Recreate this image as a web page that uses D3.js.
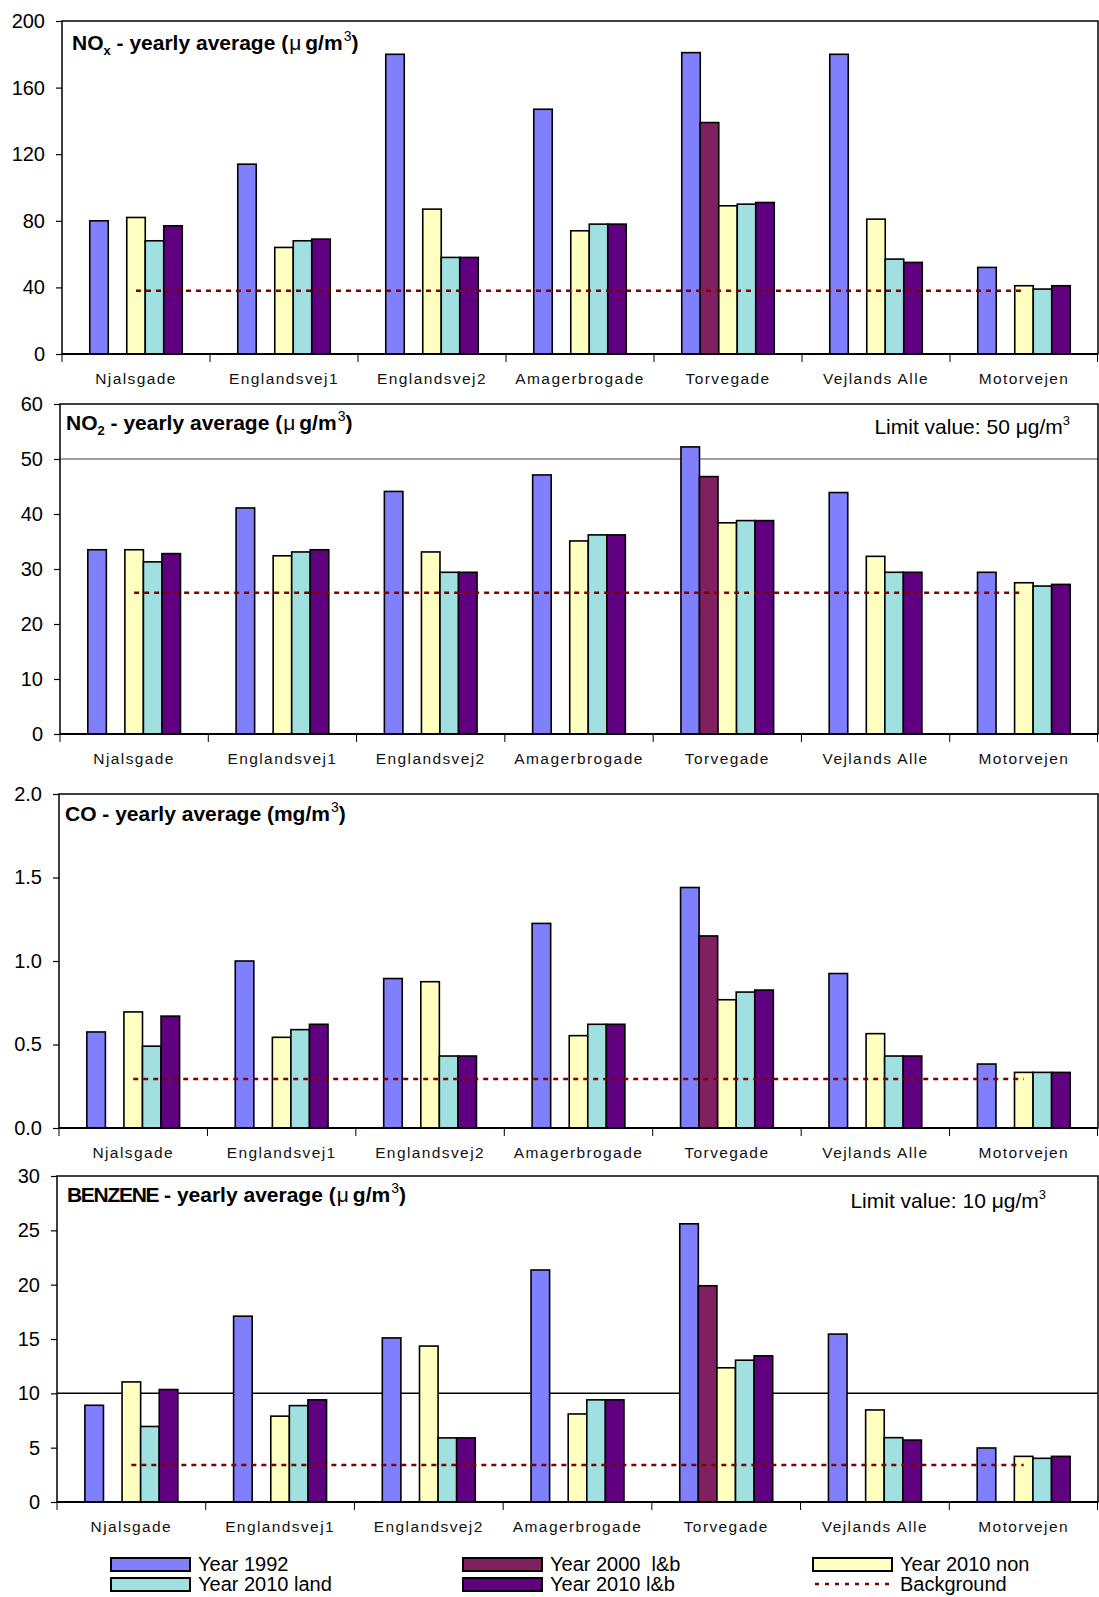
<!DOCTYPE html>
<html lang="en">
<head>
<meta charset="utf-8">
<title>Yearly averages</title>
<script src="https://d3js.org/d3.v7.min.js"></script>
<style>
  body { margin: 0; background: #fff; }
  svg { font-family: Arial, "Liberation Sans", sans-serif; }
</style>
</head>
<body>
<div id="chart"></div>
<script>
// Streets (categories) and the five scenarios
const categories = ["Njalsgade", "Englandsvej1", "Englandsvej2", "Amagerbrogade", "Torvegade", "Vejlands Alle", "Motorvejen"];
const seriesNames = ["Year 1992", "Year 2000  l&b", "Year 2010 non", "Year 2010 land", "Year 2010 l&b"];
const seriesColors = ["#8080ff", "#802060", "#ffffc0", "#a0e0e0", "#600080"];

// One row per scenario, one value per street (null = no bar)
const noxValues = [
    [80, 114, 180, 147, 181, 180, 52],
    [null, null, null, null, 139, null, null],
    [82, 64, 87, 74, 89, 81, 41],
    [68, 68, 58, 78, 90, 57, 39],
    [77, 69, 58, 78, 91, 55, 41]
];
const no2Values = [
    [33.5, 41.1, 44.1, 47.1, 52.2, 43.9, 29.4],
    [null, null, null, null, 46.8, null, null],
    [33.5, 32.4, 33.1, 35.1, 38.4, 32.3, 27.5],
    [31.3, 33.1, 29.4, 36.2, 38.8, 29.4, 26.9],
    [32.8, 33.5, 29.4, 36.2, 38.8, 29.4, 27.2]
];
const coValues = [
    [0.575, 1.0, 0.895, 1.225, 1.44, 0.925, 0.383],
    [null, null, null, null, 1.15, null, null],
    [0.695, 0.543, 0.876, 0.553, 0.768, 0.565, 0.333],
    [0.49, 0.589, 0.431, 0.621, 0.814, 0.431, 0.333],
    [0.67, 0.621, 0.431, 0.621, 0.826, 0.431, 0.333]
];
const benzeneValues = [
    [8.9, 17.1, 15.1, 21.35, 25.6, 15.45, 4.97],
    [null, null, null, null, 19.9, null, null],
    [11.05, 7.9, 14.35, 8.1, 12.35, 8.47, 4.2],
    [6.95, 8.87, 5.9, 9.4, 13.05, 5.92, 4.02],
    [10.35, 9.4, 5.9, 9.4, 13.45, 5.7, 4.2]
];

// Background level and limit values
const backgroundValues = [38, 25.7, 0.293, 3.4];
const limitValues = [null, 50, null, 10];

// Y axis ticks for each panel
const noxTicks = [0, 40, 80, 120, 160, 200];
const no2Ticks = [0, 10, 20, 30, 40, 50, 60];
const coTicks = [0, 0.5, 1.0, 1.5, 2.0];
const benzeneTicks = [0, 5, 10, 15, 20, 25, 30];

const width = 1099;
const height = 1597;
const right = 1098;

const panels = [
    { values: noxValues, ticks: noxTicks, fmt: d3.format("d"), left: 62, top: 21, bottom: 354,
      title: [["NO", 0], ["x", "sub"], [" - yearly average (", 0], ["μ", "mu"], ["g/m", 0], ["3", "sup"], [")", 0]],
      tx: 72, ty: 50 },
    { values: no2Values, ticks: no2Ticks, fmt: d3.format("d"), left: 60, top: 404, bottom: 734,
      title: [["NO", 0], ["2", "sub"], [" - yearly average (", 0], ["μ", "mu"], ["g/m", 0], ["3", "sup"], [")", 0]],
      tx: 66, ty: 430, limitText: "Limit value: 50 ", lx: 1070, ly: 434, limitColor: "#808080" },
    { values: coValues, ticks: coTicks, fmt: d3.format(".1f"), left: 59, top: 794, bottom: 1128,
      title: [["CO - yearly average (mg/m", 0], ["3", "sup"], [")", 0]],
      tx: 65, ty: 821 },
    { values: benzeneValues, ticks: benzeneTicks, fmt: d3.format("d"), left: 57, top: 1176, bottom: 1502,
      title: [["BENZENE", "cond"], [" - yearly average (", 0], ["μ", "mu"], ["g/m", 0], ["3", "sup"], [")", 0]],
      tx: 67, ty: 1202, limitText: "Limit value: 10 ", lx: 1046, ly: 1208, limitColor: "#000" }
];

const svg = d3.select("#chart")
    .append("svg")
    .attr("width", width)
    .attr("height", height);

panels.forEach((p, pi) => {
    const g = svg.append("g");
    const tickMax = p.ticks[p.ticks.length - 1];

    const x0 = d3.scaleBand().domain(categories).range([p.left, right]);
    const x1 = d3.scaleBand()
        .domain(d3.range(seriesNames.length))
        .range([0, x0.bandwidth()])
        .paddingOuter(1.5);
    const y = d3.scaleLinear().domain([0, tickMax]).range([p.bottom, p.top]);

    // limit value line
    if (limitValues[pi] !== null) {
        g.append("line")
            .attr("x1", p.left).attr("x2", right)
            .attr("y1", y(limitValues[pi])).attr("y2", y(limitValues[pi]))
            .attr("stroke", p.limitColor).attr("stroke-width", 1.5);
    }

    // bars
    p.values.forEach((row, si) => {
        g.selectAll(null)
            .data(categories.map((c, ci) => ({ c, v: row[ci] })).filter(d => d.v !== null))
            .enter()
            .append("rect")
            .attr("x", d => x0(d.c) + x1(si))
            .attr("y", d => y(d.v))
            .attr("width", x1.bandwidth())
            .attr("height", d => y(0) - y(d.v))
            .attr("fill", seriesColors[si])
            .attr("stroke", "#000")
            .attr("stroke-width", 1.6);
    });

    // background line through the street centres
    const bgLine = d3.line()
        .x(c => x0(c) + x0.bandwidth() / 2)
        .y(() => y(backgroundValues[pi]));
    g.append("path")
        .attr("d", bgLine(categories))
        .attr("fill", "none")
        .attr("stroke", "#800000")
        .attr("stroke-width", 2.5)
        .attr("stroke-dasharray", "5,5");

    // frame
    g.append("rect")
        .attr("x", p.left).attr("y", p.top)
        .attr("width", right - p.left).attr("height", p.bottom - p.top)
        .attr("fill", "none").attr("stroke", "#000").attr("stroke-width", 1.5);

    // y axis
    g.append("g")
        .attr("transform", `translate(${p.left},0)`)
        .call(d3.axisLeft(y).tickValues(p.ticks).tickSize(6).tickPadding(11).tickFormat(p.fmt))
        .attr("font-size", 20)
        .attr("font-family", "Arial, 'Liberation Sans', sans-serif")
        .call(a => a.select(".domain").remove())
        .call(a => a.selectAll("line").attr("stroke", "#000").attr("stroke-width", 1.2))
        .call(a => a.selectAll("text").attr("fill", "#000"));

    // x axis with ticks between streets
    g.append("line")
        .attr("x1", p.left).attr("x2", right)
        .attr("y1", p.bottom).attr("y2", p.bottom)
        .attr("stroke", "#000").attr("stroke-width", 2.2);
    g.selectAll(null)
        .data(categories.map(c => x0(c)).concat([right - 0.5]))
        .enter()
        .append("line")
        .attr("x1", d => d).attr("x2", d => d)
        .attr("y1", p.bottom).attr("y2", p.bottom + 8)
        .attr("stroke", "#000").attr("stroke-width", 1);
    g.selectAll(null)
        .data(categories)
        .enter()
        .append("text")
        .attr("x", c => x0(c) + x0.bandwidth() / 2)
        .attr("y", p.bottom + 30)
        .attr("text-anchor", "middle")
        .attr("font-size", 15.5)
        .attr("letter-spacing", 1.4)
        .attr("fill", "#111")
        .text(c => c);

    // title
    const t = g.append("text")
        .attr("x", p.tx).attr("y", p.ty)
        .attr("font-size", 21)
        .attr("font-weight", "bold");
    let prevKind = null;
    p.title.forEach(([s, kind]) => {
        const span = t.append("tspan").text(s);
        if (kind === "sub") span.attr("font-size", 13).attr("dy", 5);
        if (kind === "sup") span.attr("font-size", 14).attr("font-weight", "normal").attr("dy", -9).attr("dx", 1);
        if (kind === "mu") span.attr("font-weight", "normal").attr("dx", 1);
        if (kind === "cond") span.attr("letter-spacing", -1.3);
        if (kind === 0) {
            if (prevKind === "sub") span.attr("dy", -5);
            if (prevKind === "sup") span.attr("dy", 9);
            if (prevKind === "mu") span.attr("dx", 4);
        }
        prevKind = kind;
    });

    // limit label
    if (p.limitText) {
        const lt = g.append("text")
            .attr("x", p.lx).attr("y", p.ly)
            .attr("text-anchor", "end")
            .attr("font-size", 21);
        lt.append("tspan").text(p.limitText + "μg/m");
        lt.append("tspan").text("3").attr("font-size", 13).attr("dy", -9);
    }
});

// legend
const legendItems = [0, 1, 2, 3, 4, 5];
const legendCols = [111, 463, 813];
const legendRows = [1558, 1578];
const legend = svg.append("g");
legendItems.forEach(i => {
    const lx = legendCols[i % 3];
    const ly = legendRows[Math.floor(i / 3)];
    if (i < seriesNames.length) {
        legend.append("rect")
            .attr("x", lx).attr("y", ly)
            .attr("width", 79).attr("height", 13)
            .attr("fill", seriesColors[i])
            .attr("stroke", "#000").attr("stroke-width", 2);
    } else {
        legend.append("line")
            .attr("x1", lx + 2).attr("x2", lx + 76)
            .attr("y1", ly + 6).attr("y2", ly + 6)
            .attr("stroke", "#800000").attr("stroke-width", 2.5)
            .attr("stroke-dasharray", "4,6");
    }
    legend.append("text")
        .attr("x", lx + 87).attr("y", ly + 13)
        .attr("font-size", 20)
        .style("white-space", "pre")
        .text(i < seriesNames.length ? seriesNames[i] : "Background");
});
</script>
</body>
</html>
